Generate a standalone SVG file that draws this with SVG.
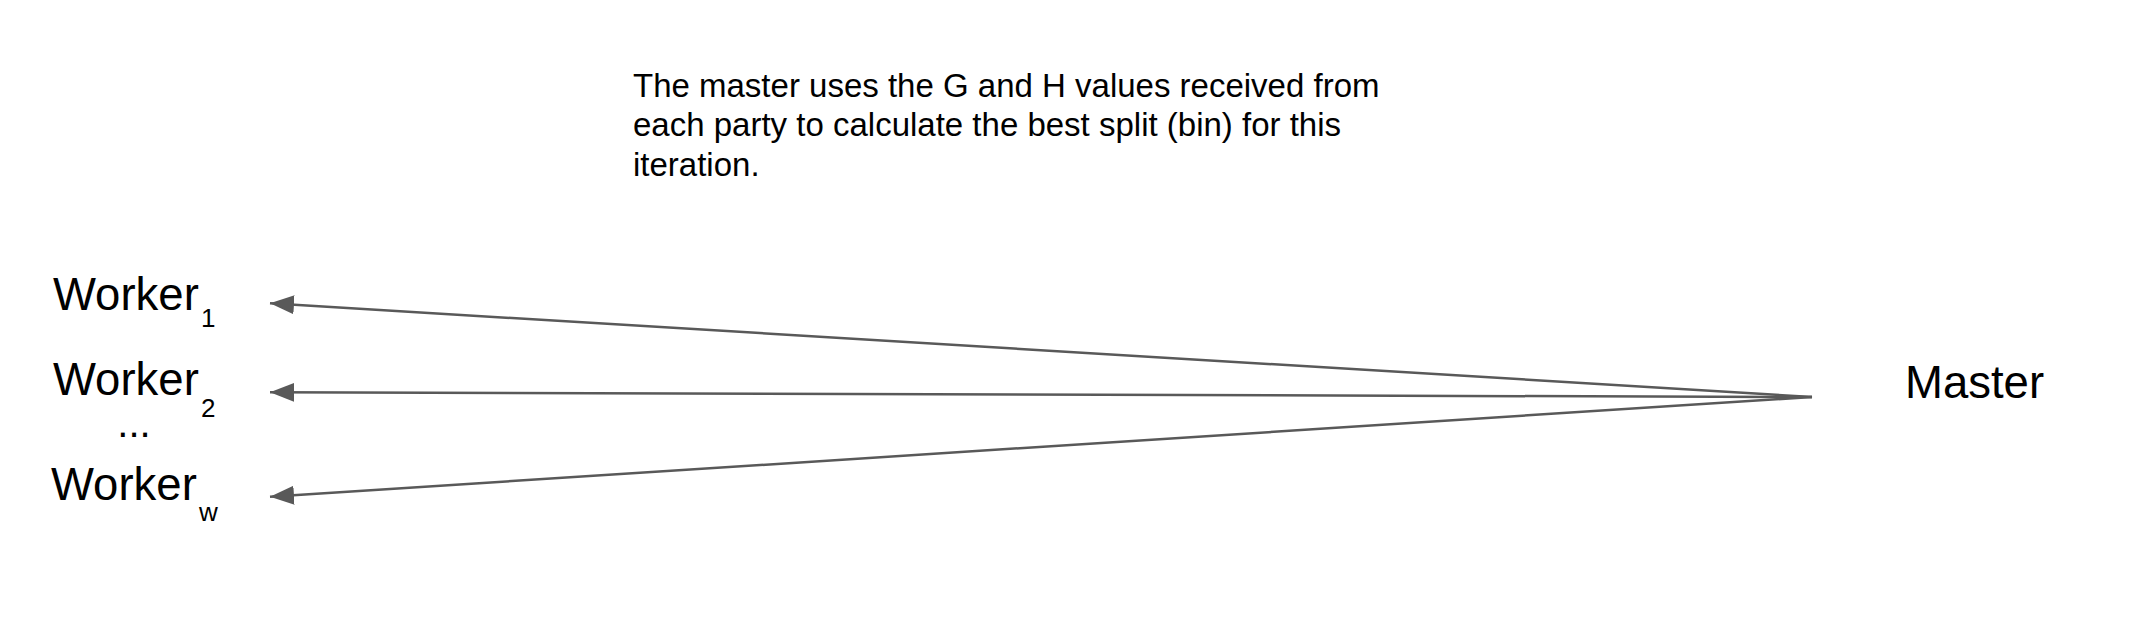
<svg xmlns="http://www.w3.org/2000/svg" width="2154" height="624" viewBox="0 0 2154 624">
  <style>
    .lbl { font-family: "Liberation Sans", Arial, sans-serif; fill: #000000; }
    .node { font-size: 45.5px; }
    .dots { font-size: 40px; }
    .sub { font-size: 26px; }
    .para { font-size: 33px; }
    .conn { stroke: #595959; stroke-width: 2.5; fill: none; }
  </style>
  <defs>
    <marker id="arrow" markerUnits="userSpaceOnUse" markerWidth="26" markerHeight="20" refX="24" refY="9.5" orient="auto">
      <path d="M0,0 L24,9.5 L0,19 z" fill="#595959"/>
    </marker>
  </defs>
  <rect width="2154" height="624" fill="#ffffff"/>

  <g id="note">
    <text class="lbl para" x="633" y="96.5">The master uses the G and H values received from</text>
    <text class="lbl para" x="633" y="136">each party to calculate the best split (bin) for this</text>
    <text class="lbl para" x="633" y="176">iteration.</text>
  </g>

  <g id="worker1">
    <text class="lbl node" x="53" y="310">Worker<tspan class="sub" x="201" y="327">1</tspan></text>
  </g>
  <g id="worker2">
    <text class="lbl node" x="53" y="395">Worker<tspan class="sub" x="201" y="417">2</tspan></text>
  </g>
  <g id="ellipsis">
    <text class="lbl dots" x="134" y="437" text-anchor="middle">...</text>
  </g>
  <g id="workerw">
    <text class="lbl node" x="51" y="500">Worker<tspan class="sub" x="199" y="521">w</tspan></text>
  </g>
  <g id="master">
    <text class="lbl node" x="1905" y="398">Master</text>
  </g>

  <g id="connectors">
    <line class="conn" x1="1812" y1="397" x2="270" y2="303.3" marker-end="url(#arrow)"/>
    <line class="conn" x1="1812" y1="397" x2="270" y2="392.3" marker-end="url(#arrow)"/>
    <line class="conn" x1="1812" y1="397" x2="270" y2="496.7" marker-end="url(#arrow)"/>
  </g>
</svg>
